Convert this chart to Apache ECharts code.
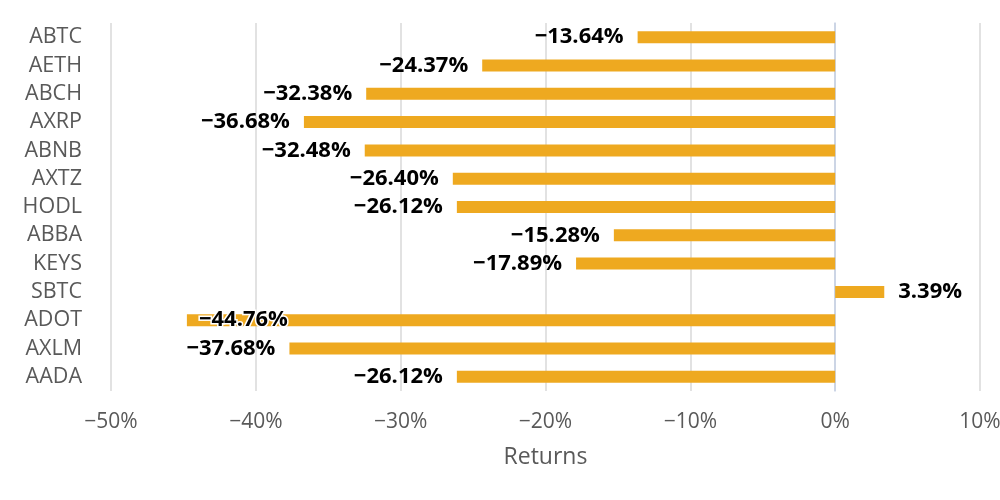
<!DOCTYPE html>
<html>
<head>
<meta charset="utf-8">
<script src="https://cdn.jsdelivr.net/npm/echarts@6/dist/echarts.min.js"></script>
<style>html,body{margin:0;padding:0;background:#fff}#c{width:1000px;height:500px}</style>
</head>
<body>
<div id="c"></div>
<script>
const categories = ['ABTC','AETH','ABCH','AXRP','ABNB','AXTZ','HODL','ABBA','KEYS','SBTC','ADOT','AXLM','AADA'];
const returns = [-13.64,-24.37,-32.38,-36.68,-32.48,-26.40,-26.12,-15.28,-17.89,3.39,-44.76,-37.68,-26.12];
const xTicks = [-50,-40,-30,-20,-10,0,10];

const FONT = '"Open Sans", "Noto Sans", sans-serif';
const fmt = v => (v < 0 ? '\u2212' : '') + Math.abs(v) + '%';
const fmt2 = v => (v < 0 ? '\u2212' : '') + Math.abs(v).toFixed(2) + '%';

const chart = echarts.init(document.getElementById('c'));
const data = returns.map((v, i) => {
  const d = { value: v };
  if (categories[i] === 'ADOT') {
    d.label = { position: 'insideLeft', distance: 12, textBorderColor: '#fff', textBorderWidth: 3 };
  } else {
    d.label = { position: v < 0 ? 'left' : 'right', distance: 14 };
  }
  return d;
});

chart.setOption({
  animation: false,
  grid: { left: 111, right: 20, top: 23, bottom: 109, containLabel: false, outerBoundsMode: 'none' },
  xAxis: {
    type: 'value', min: xTicks[0], max: xTicks[xTicks.length - 1], interval: 10,
    name: 'Returns', nameLocation: 'middle', nameGap: 55,
    nameTextStyle: { color: '#595959', fontSize: 23, fontFamily: FONT },
    axisLine: { show: false }, axisTick: { show: false },
    axisLabel: { color: '#595959', fontSize: 21, fontFamily: FONT, margin: 21, formatter: fmt, hideOverlap: false },
    splitLine: { show: true, lineStyle: { color: '#d9d9d9', width: 1.5 } }
  },
  yAxis: {
    type: 'category', data: categories, inverse: true,
    axisLine: { show: true, lineStyle: { color: '#c5d0e6', width: 1.5 } },
    axisTick: { show: false },
    axisLabel: { color: '#595959', fontSize: 21.5, fontFamily: FONT, margin: 29, interval: 0 }
  },
  series: [{
    type: 'bar', data: data, barWidth: 12,
    itemStyle: { color: '#EEA920' },
    label: { show: true, color: '#000', fontSize: 22, fontWeight: 'bold', fontFamily: FONT,
      formatter: p => fmt2(p.value) }
  }]
});
</script>
</body>
</html>
